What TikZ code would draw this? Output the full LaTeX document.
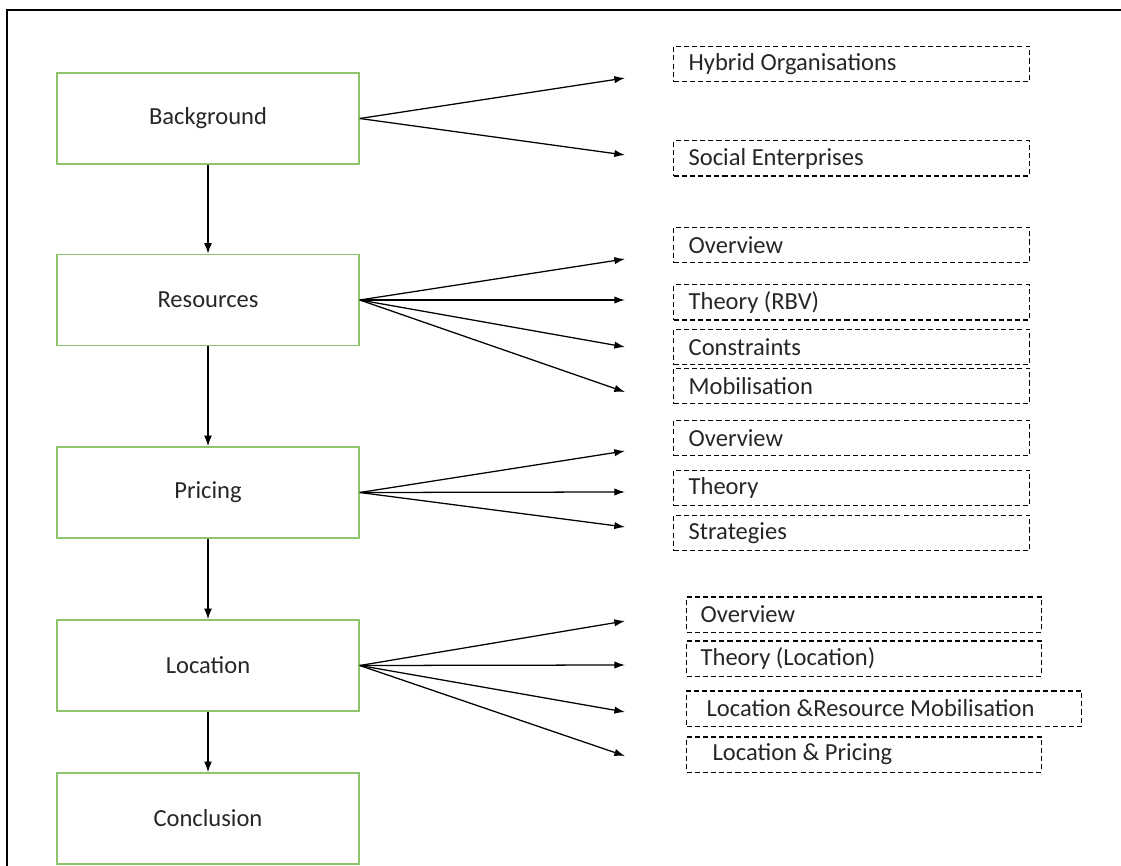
\documentclass[tikz,border=0pt]{standalone}
\usepackage{fontspec}
\setmainfont{Carlito}
\usetikzlibrary{arrows.meta}
\definecolor{boxgreen}{RGB}{141,196,110}
\definecolor{inktext}{RGB}{38,38,38}
\begin{document}
\begin{tikzpicture}[x=0.75pt,y=-0.75pt,
  every node/.style={font=\fontsize{18.4}{22}\selectfont, text=inktext},
  mainbox/.style={draw=boxgreen, line width=1.2pt, minimum width=226.5pt, minimum height=68.25pt, inner sep=0pt},
  subbox/.style={draw=black, dashed, dash pattern=on 3.8pt off 2.3pt, line width=1pt,
    anchor=west, minimum height=26.5pt, inner sep=0pt, align=left},
  flow/.style={line width=1.05pt, -{Latex[length=8pt,width=6pt]}},
  branch/.style={line width=0.95pt, -{Latex[length=8pt,width=5.5pt]}}
]
\useasboundingbox (0,0) rectangle (1121,866);
\clip (0,0) rectangle (1121,866);

% outer frame (only the top and left edges fall inside the page)
\draw[line width=2.1pt] (7,900) -- (7,10) -- (1150,10);

% main chapters
\node[mainbox] (bg)  at (208,118.5) {Background};
\node[mainbox] (res) at (208,300)   {Resources};
\node[mainbox] (pri) at (208,492.5) {Pricing};
\node[mainbox] (loc) at (208,665.5) {Location};
\node[mainbox] (con) at (208,818.5) {Conclusion};

\draw[flow] (bg)  -- (res);
\draw[flow] (res) -- (pri);
\draw[flow] (pri) -- (loc);
\draw[flow] (loc) -- (con);

% sections (dashed)
\newcommand{\sect}[6]{% name, left x, centre y, width px, text indent pt, text
  \node[subbox, minimum width=#4*0.75pt] (#1) at (#2,#3)
    {\hspace*{#5pt}\makebox[\dimexpr #4pt*3/4-#5pt\relax][l]{#6}};}
\sect{s1}{673}{64}{356}{11.25}{Hybrid Organisations}
\sect{s2}{673}{158.5}{356}{11.25}{Social Enterprises}
\sect{s3}{673}{245}{356}{11.25}{Overview}
\sect{s4}{673}{302.5}{356}{11.25}{Theory (RBV)}
\sect{s5}{673}{347}{356}{11.25}{Constraints}
\sect{s6}{673}{386}{356}{11.25}{Mobilisation}
\sect{s7}{673}{438}{356}{11.25}{Overview}
\sect{s8}{673}{488}{356}{11.25}{Theory}
\sect{s9}{673}{533}{356}{11.25}{Strategies}
\sect{s10}{686}{614.5}{355}{10.5}{Overview}
\sect{s11}{686}{658.5}{355}{10.5}{Theory (Location)}
\sect{s12}{686}{708.5}{395}{15}{Location \&Resource Mobilisation}
\sect{s13}{686}{754.5}{355}{19.5}{Location \& Pricing}

% arrow tips of the branches
\coordinate (t1) at (625,78);
\coordinate (t2) at (625,155);
\coordinate (t3) at (625,259);
\coordinate (t4) at (625,300);
\coordinate (t5) at (625,347);
\coordinate (t6) at (625,392);
\coordinate (t7) at (625,451);
\coordinate (t8) at (625,492);
\coordinate (t9) at (625,527);
\coordinate (t10) at (625,621);
\coordinate (t11) at (625,665);
\coordinate (t12) at (625,712);
\coordinate (t13) at (625,756);

\foreach \t in {t1,t2} \draw[branch] (bg.east) -- (\t);
\foreach \t in {t3,t4,t5,t6} \draw[branch] (res.east) -- (\t);
\foreach \t in {t7,t8,t9} \draw[branch] (pri.east) -- (\t);
\foreach \t in {t10,t11,t12,t13} \draw[branch] (loc.east) -- (\t);
\end{tikzpicture}
\end{document}
